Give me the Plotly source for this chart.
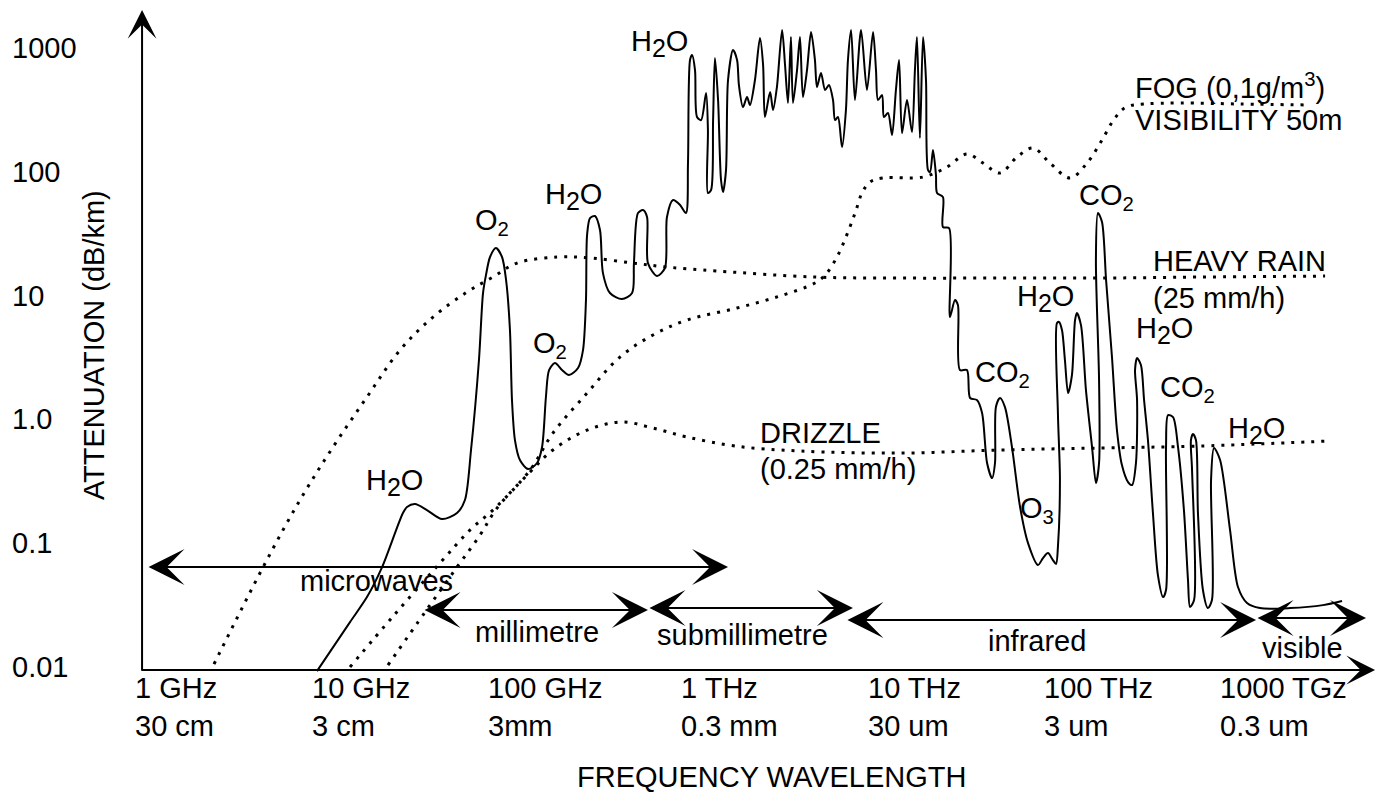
import numpy as np
import plotly.graph_objects as go

# ---------------------------------------------------------------
# Values.
# Frequencies are log10(f / GHz); attenuations are log10(dB/km).
# ---------------------------------------------------------------
absorption_log_ghz = [
    0.764, 0.943, 1.035, 1.117, 1.230, 1.252, 1.295, 1.360, 1.442, 1.523,
    1.566, 1.599, 1.642, 1.664, 1.680, 1.702, 1.734, 1.767, 1.789, 1.810,
    1.821, 1.837, 1.864, 1.908, 1.957, 1.984, 2.005, 2.022, 2.054, 2.092,
    2.130, 2.179, 2.206, 2.222, 2.228, 2.244, 2.271, 2.298, 2.314, 2.352,
    2.417, 2.472, 2.482, 2.504, 2.531, 2.553, 2.558, 2.607, 2.650, 2.661,
    2.694, 2.732, 2.764, 2.775, 2.786, 2.797, 2.813, 2.824, 2.846, 2.873,
    2.883, 2.883, 2.900, 2.911, 2.921, 2.938, 2.954, 2.965, 2.981, 2.992,
    3.019, 3.041, 3.051, 3.073, 3.095, 3.111, 3.138, 3.165, 3.182, 3.192,
    3.220, 3.236, 3.257, 3.285, 3.301, 3.317, 3.333, 3.344, 3.366, 3.382,
    3.398, 3.420, 3.442, 3.463, 3.474, 3.496, 3.518, 3.539, 3.561, 3.572,
    3.588, 3.610, 3.631, 3.642, 3.659, 3.680, 3.713, 3.745, 3.778, 3.794,
    3.805, 3.827, 3.837, 3.859, 3.881, 3.902, 3.919, 3.935, 3.962, 3.989,
    4.005, 4.016, 4.032, 4.049, 4.065, 4.076, 4.087, 4.103, 4.119, 4.125,
    4.157, 4.157, 4.190, 4.195, 4.222, 4.238, 4.249, 4.287, 4.304, 4.341,
    4.369, 4.396, 4.423, 4.439, 4.444, 4.466, 4.493, 4.531, 4.575, 4.618,
    4.672, 4.699, 4.726, 4.753, 4.770, 4.780, 4.791, 4.780, 4.775, 4.786,
    4.802, 4.818, 4.835, 4.856, 4.873, 4.883, 4.905, 4.932, 4.965, 4.986,
    5.003, 5.003, 4.986, 4.997, 5.019, 5.041, 5.073, 5.100, 5.127, 5.160,
    5.182, 5.203, 5.209, 5.198, 5.209, 5.230, 5.247, 5.268, 5.295, 5.322,
    5.350, 5.366, 5.366, 5.377, 5.404, 5.431, 5.463, 5.485, 5.496, 5.518,
    5.507, 5.501, 5.512, 5.528, 5.539, 5.566, 5.593, 5.615, 5.610, 5.626,
    5.659, 5.713, 5.756, 5.805, 5.875, 6.038, 6.217, 6.320,
]
absorption_log_db = [
    -2.033, -1.637, -1.435, -1.193, -0.756, -0.708, -0.684, -0.732, -0.805, -0.756,
    -0.651, -0.247, 0.480, 1.021, 1.166, 1.312, 1.384, 1.312, 1.126, 0.722,
    0.157, -0.167, -0.328, -0.401, -0.352, -0.223, 0.181, 0.399, 0.455, 0.399,
    0.358, 0.415, 0.560, 0.964, 1.489, 1.627, 1.643, 1.530, 1.182, 1.021,
    0.972, 1.021, 1.263, 1.667, 1.691, 1.635, 1.263, 1.158, 1.223, 1.635,
    1.772, 1.732, 1.667, 2.071, 2.903, 2.943, 2.822, 2.443, 2.418, 2.636,
    2.338, 1.829, 1.853, 2.418, 2.919, 2.580, 1.934, 1.837, 2.014, 2.742,
    2.984, 2.903, 2.701, 2.523, 2.604, 2.540, 2.742, 3.081, 2.863, 2.443,
    2.645, 2.499, 2.685, 3.145, 2.863, 2.556, 3.089, 2.556, 2.822, 3.089,
    2.604, 2.822, 3.129, 2.903, 2.685, 2.798, 2.661, 2.701, 2.580, 2.418,
    2.443, 2.200, 2.499, 2.903, 3.145, 2.580, 3.145, 2.661, 3.129, 2.822,
    2.580, 2.620, 2.443, 2.475, 2.297, 2.661, 2.903, 2.313, 2.580, 2.321,
    2.822, 3.089, 2.273, 3.089, 2.742, 2.014, 1.998, 2.176, 1.974, 1.829,
    1.796, 1.554, 1.546, 0.827, 0.964, 0.924, 0.399, 0.399, 0.173, 0.157,
    0.052, -0.352, -0.474, -0.352, 0.100, 0.173, 0.100, -0.223, -0.708, -0.999,
    -1.176, -1.120, -1.079, -1.136, -1.168, -1.031, -0.490, 0.052, 0.779, 0.787,
    0.722, 0.480, 0.213, 0.358, 0.803, 0.859, 0.762, 0.237, -0.223, -0.514,
    -0.352, 0.318, 1.287, 1.667, 1.594, 1.126, 0.504, -0.086, -0.369, -0.506,
    -0.530, -0.352, 0.157, 0.399, 0.496, 0.439, 0.157, -0.167, -0.756, -1.257,
    -1.435, -1.378, -0.223, 0.035, 0.019, -0.223, -0.732, -1.298, -1.516, -1.459,
    -0.409, -0.167, -0.118, -0.167, -0.756, -1.378, -1.524, -1.459, -0.490, -0.231,
    -0.328, -0.894, -1.354, -1.483, -1.524, -1.524, -1.500, -1.467,
]

rain_log_ghz = [0.206, 0.472, 0.672, 0.851, 1.035, 1.214, 1.393, 1.577, 1.718, 1.848,
                2.065, 2.244, 2.477, 2.661, 2.932, 3.463, 3.924, 4.466, 5.008, 5.550,
                6.228]
rain_log_db = [-1.976, -1.193, -0.651, -0.223, 0.181, 0.560, 0.827, 1.029, 1.150, 1.263,
               1.312, 1.304, 1.263, 1.231, 1.199, 1.150, 1.142, 1.142, 1.142, 1.150,
               1.158]

fog_log_ghz = [0.943, 1.187, 1.431, 1.593, 1.729, 1.919, 2.043, 2.228, 2.406, 2.585,
               2.770, 3.041, 3.274, 3.463, 3.523, 3.588, 3.642, 3.686, 3.718, 3.762,
               3.832, 4.049, 4.179, 4.287, 4.374, 4.466, 4.558, 4.645, 4.737, 4.846,
               4.938, 5.019, 5.089, 5.149, 5.252, 5.442, 5.767, 6.136]
fog_log_db = [-2.000, -1.572, -1.160, -0.894, -0.716, -0.409, -0.110, 0.213, 0.504, 0.682,
              0.803, 0.900, 0.997, 1.102, 1.174, 1.328, 1.514, 1.691, 1.829, 1.918,
              1.950, 1.958, 2.039, 2.144, 2.071, 1.990, 2.119, 2.192, 2.071, 1.950,
              2.071, 2.257, 2.435, 2.523, 2.548, 2.556, 2.548, 2.540]

drizzle_log_ghz = [1.149, 1.350, 1.523, 1.648, 1.740, 1.919, 2.043, 2.228, 2.417, 2.585,
                   2.770, 3.030, 3.382, 3.924, 4.466, 5.008, 5.550, 6.238]
drizzle_log_db = [-1.984, -1.556, -1.193, -0.934, -0.716, -0.425, -0.247, -0.086, -0.021, -0.070,
                  -0.142, -0.215, -0.255, -0.272, -0.247, -0.231, -0.215, -0.175]

# axis ticks
decade_log_ghz = [0, 1, 2, 3, 4, 5, 6]
freq_tick_labels = ["1 GHz", "10 GHz", "100 GHz", "1 THz", "10 THz", "100 THz", "1000 TGz"]
wavelength_tick_labels = ["30 cm", "3 cm", "3mm", "0.3 mm", "30 um", "3 um", "0.3 um"]
atten_tick_log = [3, 2, 1, 0, -1, -2]
atten_tick_labels = ["1000", "100", "10", "1.0", "0.1", "0.01"]

# spectral bands (log10 GHz)
band_names = ["microwaves", "millimetre", "submillimetre", "infrared", "visible"]
band_lo_log_ghz = [-0.157, 1.339, 2.558, 3.631, 5.854]
band_hi_log_ghz = [2.992, 2.558, 3.669, 5.854, 6.450]

# ---------------------------------------------------------------
# layout helpers (positions / styles, kept apart from the data)
# ---------------------------------------------------------------
band_arrow_y = [-1.193, -1.540, -1.524, -1.621, -1.605]
band_label_pos = [(1.089, -1.306), (1.957, -1.718), (3.073, -1.742), (4.667, -1.790), (6.108, -1.847)]

H2O = 'H<sub><span style="font-size:25px">2</span></sub>O'
species_labels = [
    (H2O, 2.623, 3.040),
    ("O<sub>2</sub>", 1.713, 1.594),
    (H2O, 2.152, 1.804),
    ("O<sub>2</sub>", 2.027, 0.601),
    (H2O, 1.182, -0.506),
    ("CO<sub>2</sub>", 5.046, 1.796),
    (H2O, 4.710, 0.980),
    (H2O, 5.355, 0.722),
    ("CO<sub>2</sub>", 5.485, 0.245),
    (H2O, 5.859, -0.086),
    ("CO<sub>2</sub>", 4.482, 0.367),
    ("O<sub>3</sub>", 4.667, -0.732),
]
weather_labels = [
    ("FOG (0,1g/m<sup>3</sup>)", 5.187, 2.693),
    ("VISIBILITY 50m", 5.187, 2.418),
    ("HEAVY RAIN", 5.285, 1.279),
    ("(25 mm/h)", 5.285, 0.980),
    ("DRIZZLE", 3.154, -0.110),
    ("(0.25 mm/h)", 3.154, -0.401),
]

FONT = "Liberation Sans, Arial, Helvetica, sans-serif"
FS = 29


def ghz(v):
    return 10 ** np.asarray(v)


fig = go.Figure()

curve_style = dict(color="black", width=2, shape="spline", smoothing=0.8)
dot_style = dict(color="black", width=3, dash="3px,7px", shape="spline", smoothing=1.0)

for lx, ly in [(rain_log_ghz, rain_log_db), (fog_log_ghz, fog_log_db),
               (drizzle_log_ghz, drizzle_log_db)]:
    fig.add_trace(go.Scatter(x=ghz(lx), y=ghz(ly), mode="lines", line=dot_style,
                             hoverinfo="skip", showlegend=False))

fig.add_trace(go.Scatter(x=ghz(absorption_log_ghz), y=ghz(absorption_log_db), mode="lines",
                         line=curve_style, hoverinfo="skip", showlegend=False))

ann = []


def arrow(x0, y0, x1, y1, both=False, size=2.0, width=2.0):
    return dict(x=x1, y=y1, ax=x0, ay=y0, xref="x", yref="y", axref="x", ayref="y",
                text="", showarrow=True, arrowhead=3, startarrowhead=3,
                arrowside="end+start" if both else "end",
                arrowsize=size, startarrowsize=size, arrowwidth=width,
                arrowcolor="black", standoff=0, startstandoff=0)


def label(text, x, y, xanchor="center", yanchor="middle", size=FS, **kw):
    d = dict(text=text, x=x, y=y, xref="x", yref="y", showarrow=False,
             xanchor=xanchor, yanchor=yanchor,
             font=dict(family=FONT, size=size, color="black"))
    d.update(kw)
    return d


# axes drawn as arrows
ann.append(arrow(-0.184, -2.041, -0.184, 3.307, size=2.4, width=2))
ann.append(arrow(-0.195, -2.024, 6.499, -2.024, size=2.4, width=2))

# tick labels
for lg, t in zip(atten_tick_log, atten_tick_labels):
    ann.append(label(t, -0.900, lg, xanchor="left"))
for lg, f, w in zip(decade_log_ghz, freq_tick_labels, wavelength_tick_labels):
    ann.append(label(f + "<br>" + w, lg, -2.319, align="left"))

ann.append(label("FREQUENCY WAVELENGTH", 3.230, -2.889))
ann.append(label("ATTENUATION (dB/km)", -0.444, 0.601, textangle=-90))

# band arrows and labels
for name, lo, hi, yy, (tx, ty) in zip(band_names, band_lo_log_ghz, band_hi_log_ghz,
                                      band_arrow_y, band_label_pos):
    ann.append(arrow(lo, yy, hi, yy, both=True, size=3.0, width=2))
    ann.append(label(name, tx, ty))

for t, x, y in species_labels:
    ann.append(label(t, x, y))
for t, x, y in weather_labels:
    ann.append(label(t, x, y, xanchor="left"))

fig.update_layout(
    width=1383, height=798,
    margin=dict(l=0, r=0, t=0, b=0, pad=0),
    paper_bgcolor="white", plot_bgcolor="white",
    showlegend=False,
    font=dict(family=FONT, size=FS, color="black"),
    xaxis=dict(type="log", range=[-0.954, 6.542], visible=False, fixedrange=True),
    yaxis=dict(type="log", range=[-3.058, 3.388], visible=False, fixedrange=True),
    annotations=ann,
)

fig.write_html("out.html", config={"displayModeBar": False},
               post_script="document.body.style.margin='0px';")
